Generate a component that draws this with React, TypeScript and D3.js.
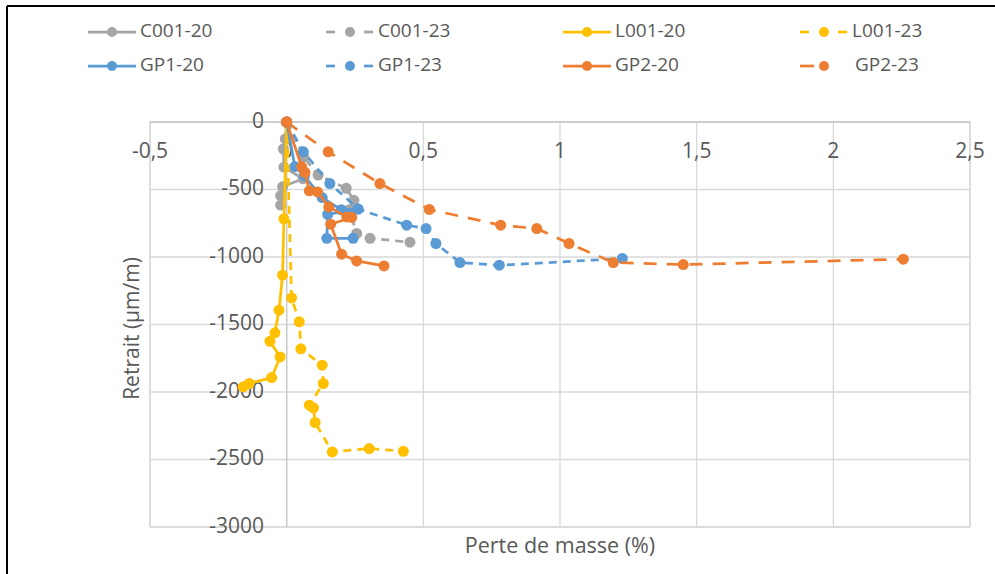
import React from "react";
import * as d3 from "d3";

type Pt = [number, number];

const xTicks = [-0.5, 0, 0.5, 1, 1.5, 2, 2.5];
const xTickLabels = ["-0,5", "0", "0,5", "1", "1,5", "2", "2,5"];
const yTicks = [0, -500, -1000, -1500, -2000, -2500, -3000];
const yTickLabels = ["0", "-500", "-1000", "-1500", "-2000", "-2500", "-3000"];

const C001_20: Pt[] = [[0, 0], [-0.005, -125], [-0.012, -200], [-0.01, -335], [0.06, -420], [-0.015, -480], [-0.022, -545], [-0.022, -615]];
const C001_23: Pt[] = [[0, 0], [0.063, -260], [0.115, -393], [0.218, -491], [0.246, -580], [0.23, -650], [0.256, -825], [0.305, -862], [0.451, -890]];
const L001_20: Pt[] = [[0, 0], [-0.01, -717], [-0.015, -1135], [-0.028, -1394], [-0.043, -1562], [-0.061, -1624], [-0.024, -1740], [-0.055, -1893], [-0.137, -1937], [-0.159, -1962]];
const L001_23: Pt[] = [[0, 0], [0.018, -1303], [0.046, -1480], [0.052, -1680], [0.13, -1801], [0.134, -1937], [0.083, -2098], [0.098, -2117], [0.104, -2226], [0.167, -2444], [0.302, -2419], [0.427, -2439]];
const GP1_20: Pt[] = [[0, 0], [0.03, -330], [0.065, -400], [0.13, -560], [0.2, -650], [0.26, -645], [0.15, -685], [0.147, -862], [0.243, -862]];
const GP1_23: Pt[] = [[0, 0], [0.061, -221], [0.158, -456], [0.262, -645], [0.439, -764], [0.51, -789], [0.546, -900], [0.634, -1041], [0.778, -1061], [1.228, -1011]];
const GP2_20: Pt[] = [[0, 0], [0.055, -332], [0.067, -374], [0.083, -510], [0.113, -518], [0.154, -629], [0.22, -703], [0.238, -707], [0.161, -757], [0.201, -979], [0.256, -1029], [0.356, -1066]];
const GP2_23: Pt[] = [[0, 0], [0.152, -221], [0.341, -456], [0.522, -648], [0.783, -764], [0.915, -789], [1.033, -900], [1.195, -1041], [1.451, -1056], [2.256, -1016]];

const seriesNames = ["C001-20", "C001-23", "L001-20", "L001-23", "GP1-20", "GP1-23", "GP2-20", "GP2-23"];
const seriesData = [C001_20, C001_23, L001_20, L001_23, GP1_20, GP1_23, GP2_20, GP2_23];
const seriesColors = ["#A5A5A5", "#A5A5A5", "#FFC000", "#FFC000", "#5B9BD5", "#5B9BD5", "#ED7D31", "#ED7D31"];
const seriesDash = ["", "8,6", "", "8,6", "", "8,6", "", "13,10"];

const W = 995;
const H = 574;
const M = { left: 150, right: 970, top: 122, bottom: 527 };
const FONT = "'Open Sans', sans-serif";
const TXT = "#595959";

export default function App() {
  const x = d3.scaleLinear().domain([-0.5, 2.5]).range([M.left, M.right]);
  const y = d3.scaleLinear().domain([-3000, 0]).range([M.bottom, M.top]);
  const line = d3.line<Pt>().x((d) => x(d[0])).y((d) => y(d[1]));

  const legendCols = [88, 326, 563, 800];
  const legendRows = [32, 66];

  return (
    <svg width={W} height={H} style={{ position: "absolute", left: 0, top: 0, background: "#fff" }}>
      <rect x={0} y={0} width={W} height={H} fill="#fff" />
      {/* frame */}
      <line x1={7} y1={6} x2={7} y2={H} stroke="#000" strokeWidth={2} />
      <line x1={7} y1={6} x2={W} y2={6} stroke="#000" strokeWidth={2} />

      {/* gridlines */}
      {xTicks.map((t) => (
        <line key={"gx" + t} x1={x(t)} x2={x(t)} y1={M.top} y2={M.bottom} stroke="#D9D9D9" strokeWidth={1.3} />
      ))}
      {yTicks.map((t) => (
        <line key={"gy" + t} x1={M.left} x2={M.right} y1={y(t)} y2={y(t)} stroke="#D9D9D9" strokeWidth={1.3} />
      ))}
      <rect x={M.left} y={M.top} width={M.right - M.left} height={M.bottom - M.top} fill="none" stroke="#D9D9D9" strokeWidth={1.3} />
      <line x1={x(0)} x2={x(0)} y1={M.top} y2={M.bottom} stroke="#C8C8C8" strokeWidth={1.3} />
      <line x1={M.left} x2={M.right} y1={y(0)} y2={y(0)} stroke="#C8C8C8" strokeWidth={1.3} />

      {/* tick labels */}
      {xTicks.map((t, i) => (
        <text key={"tx" + t} x={x(t)} y={y(0) + 30} textAnchor="middle" dominantBaseline="middle" fontFamily={FONT} fontSize={21} fill={TXT}>
          {xTickLabels[i]}
        </text>
      ))}
      {yTicks.map((t, i) => (
        <text key={"ty" + t} x={M.left + 114} y={y(t)} textAnchor="end" dominantBaseline="middle" fontFamily={FONT} fontSize={21} fill={TXT}>
          {yTickLabels[i]}
        </text>
      ))}

      {/* axis titles */}
      <text x={560} y={547} textAnchor="middle" dominantBaseline="middle" fontFamily={FONT} fontSize={21.5} fill={TXT}>
        Perte de masse (%)
      </text>
      <text transform={`translate(133,${(M.top + M.bottom) / 2 + 4}) rotate(-90)`} textAnchor="middle" dominantBaseline="middle" fontFamily={FONT} fontSize={21} fill={TXT}>
        Retrait (µm/m)
      </text>

      {/* series */}
      {seriesData.map((data, i) => (
        <g key={seriesNames[i]}>
          <path d={line(data) || ""} fill="none" stroke={seriesColors[i]} strokeWidth={2.75} strokeDasharray={seriesDash[i]} strokeLinejoin="round" />
          {data.map((d, j) => (
            <circle key={j} cx={x(d[0])} cy={y(d[1])} r={5.5} fill={seriesColors[i]} />
          ))}
        </g>
      ))}

      {/* legend */}
      {seriesNames.map((name, i) => {
        const lx = legendCols[i % 4];
        const ly = legendRows[Math.floor(i / 4)];
        const dashed = seriesDash[i] !== "";
        return (
          <g key={"lg" + name}>
            {dashed ? (
              i === 7 ? (
                <line x1={lx} x2={lx + 14} y1={ly} y2={ly} stroke={seriesColors[i]} strokeWidth={2.75} />
              ) : (
                <>
                  <line x1={lx} x2={lx + 9} y1={ly} y2={ly} stroke={seriesColors[i]} strokeWidth={2.75} />
                  <line x1={lx + 38} x2={lx + 47} y1={ly} y2={ly} stroke={seriesColors[i]} strokeWidth={2.75} />
                </>
              )
            ) : (
              <line x1={lx} x2={lx + 48} y1={ly} y2={ly} stroke={seriesColors[i]} strokeWidth={2.75} />
            )}
            <circle cx={lx + 24} cy={ly} r={5} fill={seriesColors[i]} />
            <text x={lx + (i === 7 ? 55 : 52)} y={ly} dominantBaseline="middle" fontFamily={FONT} fontSize={19} fill={TXT}>
              {name}
            </text>
          </g>
        );
      })}
    </svg>
  );
}
